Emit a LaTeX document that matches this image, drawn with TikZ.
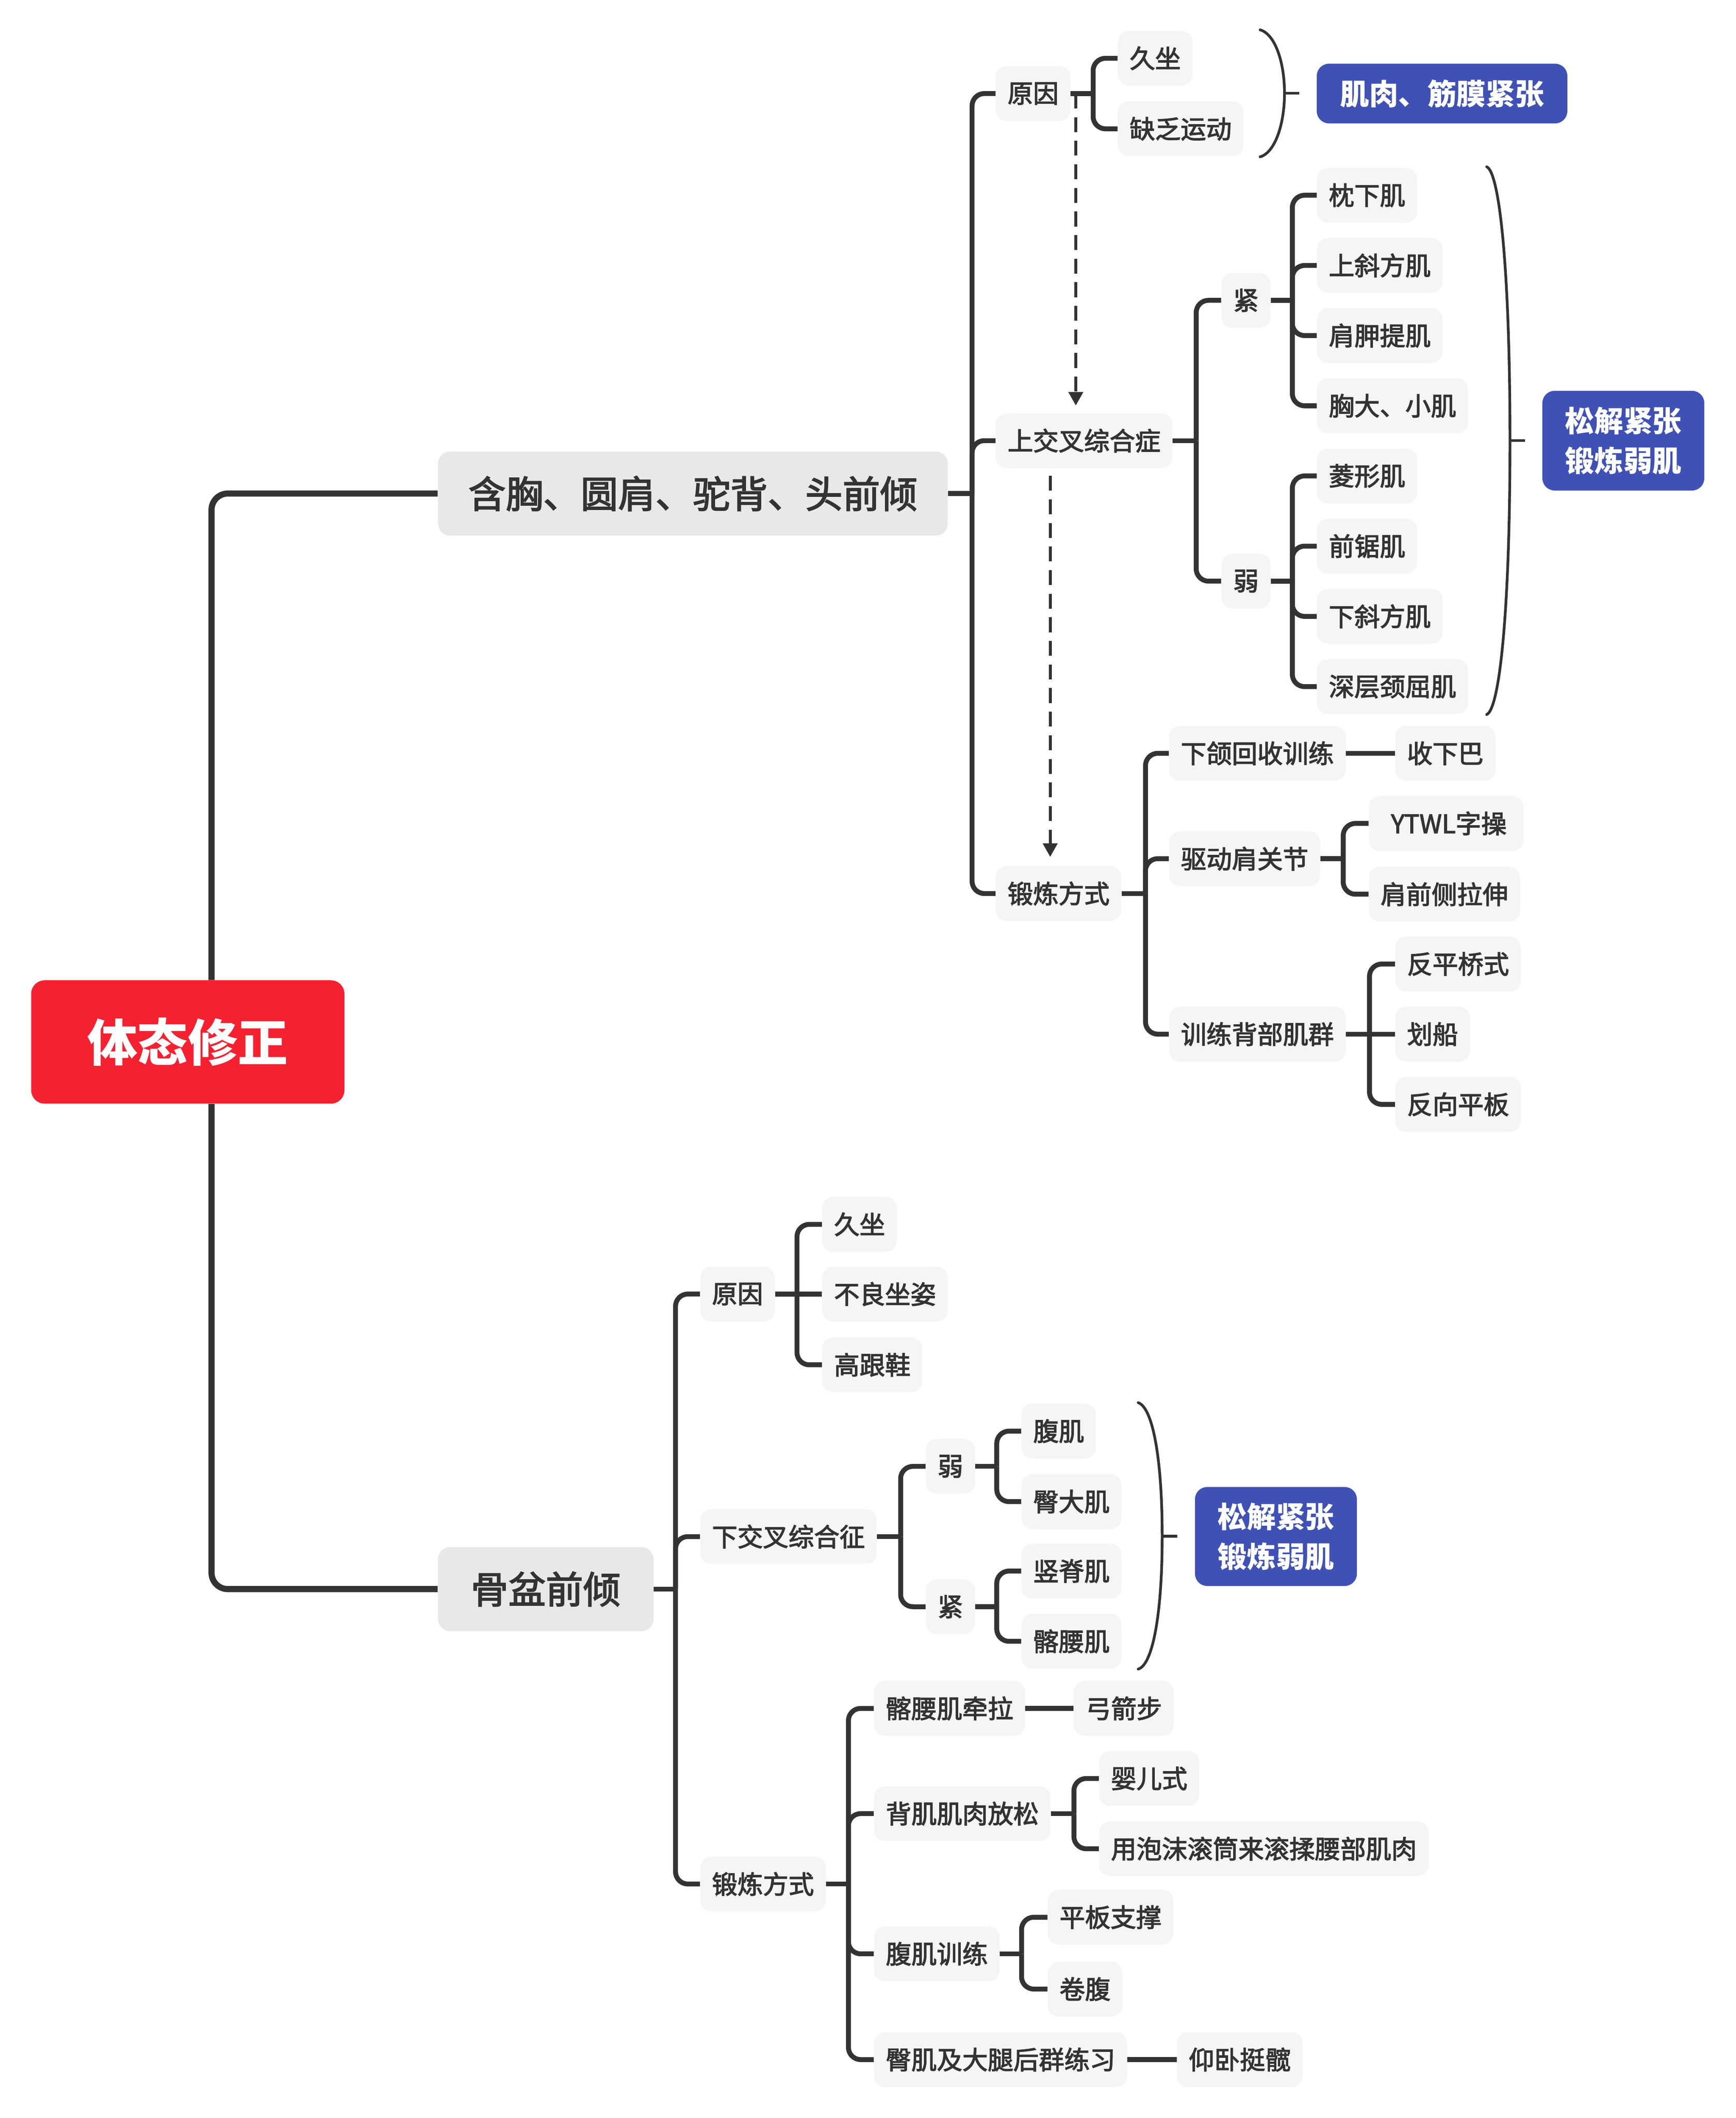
\documentclass[tikz,border=0pt]{standalone}
\usepackage{fontspec}
\setmainfont{Noto Sans CJK SC}
\newfontfamily\medfont{Noto Sans CJK SC}[FakeBold=2.6]
\usetikzlibrary{arrows.meta}
\definecolor{ink}{HTML}{333333}
\definecolor{leaf}{HTML}{F5F5F5}
\definecolor{midgrey}{HTML}{E8E8E8}
\definecolor{blu}{HTML}{3F51B5}
\definecolor{rootred}{HTML}{F62130}
\tikzset{
  leafbox/.style={fill=leaf, rounded corners=8pt, minimum height=40.4pt, inner xsep=8.7pt, inner ysep=0pt, text=ink, font=\medfont\fontsize{18.8pt}{22pt}\selectfont, anchor=west},
  l1box/.style={fill=midgrey, rounded corners=9pt, minimum height=62pt, inner xsep=0pt, text=ink, font=\medfont\fontsize{27.6pt}{34pt}\selectfont},
  bluebox/.style={fill=blu, rounded corners=9pt, text=white, font=\bfseries\fontsize{21.5pt}{29.4pt}\selectfont, align=center, inner sep=0pt},
  conn/.style={draw=ink, line width=3.6pt, rounded corners=9pt},
  rootconn/.style={draw=ink, line width=4.5pt, rounded corners=12pt},
  brk/.style={draw=ink, line width=2pt, line cap=round},
  dasharrow/.style={draw=ink, line width=2.2pt, dash pattern=on 11pt off 6.4pt, -{Triangle[length=10pt,width=10.5pt]}},
}
\begin{document}
\begin{tikzpicture}[x=1pt,y=-1pt]
\useasboundingbox (0,0) rectangle (1280,1562.1);

% ---------- root and level 1 ----------
\node[fill=rootred, rounded corners=10pt, minimum width=231pt, minimum height=91pt, inner sep=0pt, text=white, font=\bfseries\fontsize{37pt}{40pt}\selectfont] (root) at (138.5,768.5) {体态修正};
\node[l1box, minimum width=376pt] (la) at (511,364) {含胸、圆肩、驼背、头前倾};
\node[l1box, minimum width=159pt] (lb) at (402.5,1172) {骨盆前倾};
\coordinate (jR) at (156,0);
\draw[rootconn] (root.north -| jR) |- (la.west);
\draw[rootconn] (root.south -| jR) |- (lb.west);

% ---------- upper branch ----------
\coordinate (jA) at (716.9,364);
\node[leafbox] (ay) at (734.2,69) {原因};
\node[leafbox] (ax) at (734.2,325) {上交叉综合症};
\node[leafbox] (ad) at (734.2,659) {锻炼方式};
\draw[conn] (la.east) -- (jA);
\foreach \n in {ay,ax,ad} \draw[conn] (jA) |- (\n.west);

% causes
\coordinate (jAy) at (806.2,69);
\node[leafbox] (ay1) at (824.2,43) {久坐};
\node[leafbox] (ay2) at (824.2,95) {缺乏运动};
\draw[conn] (ay.east) -- (jAy);
\foreach \n in {ay1,ay2} \draw[conn] (jAy) |- (\n.west);
\draw[brk] (929.3,22) .. controls (940,25) and (947.3,45) .. (947.3,68.7) .. controls (947.3,92.4) and (940,112.7) .. (929.3,115.7);
\draw[brk, line cap=butt] (947.3,68.7) -- (958.3,68.7);
\node[bluebox, minimum width=184.8pt, minimum height=44pt] (b1) at (1063.5,69) {肌肉、筋膜紧张};

% upper crossed syndrome
\coordinate (jAx) at (882.2,325);
\node[leafbox] (kt) at (900.6,221.5) {紧};
\node[leafbox] (wk) at (900.6,428.6) {弱};
\draw[conn] (ax.east) -- (jAx);
\foreach \n in {kt,wk} \draw[conn] (jAx) |- (\n.west);
\coordinate (jK) at (953.1,221.5);
\node[leafbox] (k1) at (971.1,144) {枕下肌};
\node[leafbox] (k2) at (971.1,195.8) {上斜方肌};
\node[leafbox] (k3) at (971.1,247.5) {肩胛提肌};
\node[leafbox] (k4) at (971.1,299.3) {胸大、小肌};
\draw[conn] (kt.east) -- (jK);
\foreach \n in {k1,k2,k3,k4} \draw[conn] (jK) |- (\n.west);
\coordinate (jW) at (953.1,428.6);
\node[leafbox] (w1) at (971.1,351) {菱形肌};
\node[leafbox] (w2) at (971.1,402.8) {前锯肌};
\node[leafbox] (w3) at (971.1,454.6) {下斜方肌};
\node[leafbox] (w4) at (971.1,506.4) {深层颈屈肌};
\draw[conn] (wk.east) -- (jW);
\foreach \n in {w1,w2,w3,w4} \draw[conn] (jW) |- (\n.west);
\draw[brk] (1096.4,123) .. controls (1106,127) and (1113.6,200) .. (1113.6,325) .. controls (1113.6,450) and (1106,523) .. (1096.4,527);
\draw[brk, line cap=butt] (1113.6,325) -- (1124.7,325);
\node[bluebox, minimum width=119.4pt, minimum height=73.5pt] (b2) at (1197.2,325) {松解紧张\\锻炼弱肌};

% exercises (upper)
\coordinate (jAd) at (844.8,659);
\node[leafbox] (e1) at (862,555.6) {下颌回收训练};
\node[leafbox] (e2) at (862,633.3) {驱动肩关节};
\node[leafbox] (e3) at (862,762.7) {训练背部肌群};
\draw[conn] (ad.east) -- (jAd);
\foreach \n in {e1,e2,e3} \draw[conn] (jAd) |- (\n.west);
\node[leafbox] (e11) at (1028.8,555.6) {收下巴};
\draw[conn] (e1.east) -- (e11.west);
\coordinate (jE2) at (990.6,633.3);
\node[leafbox, minimum width=114pt] (e21) at (1009.3,607.3) {\hspace{4pt}YTWL字操};
\node[leafbox] (e22) at (1009.3,659.5) {肩前侧拉伸};
\draw[conn] (e2.east) -- (jE2);
\foreach \n in {e21,e22} \draw[conn] (jE2) |- (\n.west);
\coordinate (jE3) at (1010,762.7);
\node[leafbox] (e31) at (1028.8,711) {反平桥式};
\node[leafbox] (e32) at (1028.8,762.7) {划船};
\node[leafbox] (e33) at (1028.8,814.5) {反向平板};
\draw[conn] (e3.east) -- (e32.west);
\foreach \n in {e31,e33} \draw[conn] (jE3) |- (\n.west);

% dashed arrows
\coordinate (d1) at (793.4,69);
\draw[dasharrow, shorten >=5.5pt] (d1) -- (d1 |- ax.north);
\coordinate (d2) at (774.5,0);
\draw[dasharrow, shorten <=5.5pt, shorten >=6.6pt] (ax.south -| d2) -- (ad.north -| d2);

% ---------- lower branch ----------
\coordinate (jB) at (498.2,1172);
\node[leafbox] (by) at (516.2,954.4) {原因};
\node[leafbox] (bx) at (516.2,1133.3) {下交叉综合征};
\node[leafbox] (bd) at (516.2,1389.5) {锻炼方式};
\draw[conn] (lb.east) -- (jB);
\foreach \n in {by,bx,bd} \draw[conn] (jB) |- (\n.west);

% causes
\coordinate (jBy) at (587.8,954.4);
\node[leafbox] (by1) at (606.2,903) {久坐};
\node[leafbox] (by2) at (606.2,954.4) {不良坐姿};
\node[leafbox] (by3) at (606.2,1006.6) {高跟鞋};
\draw[conn] (by.east) -- (by2.west);
\foreach \n in {by1,by3} \draw[conn] (jBy) |- (\n.west);

% lower crossed syndrome
\coordinate (jBx) at (664.2,1133.3);
\node[leafbox] (lw) at (682.6,1081.5) {弱};
\node[leafbox] (lk) at (682.6,1185) {紧};
\draw[conn] (bx.east) -- (jBx);
\foreach \n in {lw,lk} \draw[conn] (jBx) |- (\n.west);
\coordinate (jBw) at (735.1,1081.5);
\node[leafbox] (lw1) at (753.1,1055.5) {腹肌};
\node[leafbox] (lw2) at (753.1,1107.5) {臀大肌};
\draw[conn] (lw.east) -- (jBw);
\foreach \n in {lw1,lw2} \draw[conn] (jBw) |- (\n.west);
\coordinate (jBk) at (735.1,1185);
\node[leafbox] (lk1) at (753.1,1158.7) {竖脊肌};
\node[leafbox] (lk2) at (753.1,1210.5) {髂腰肌};
\draw[conn] (lk.east) -- (jBk);
\foreach \n in {lk1,lk2} \draw[conn] (jBk) |- (\n.west);
\draw[brk] (839.4,1034.5) .. controls (850,1038) and (857.1,1075) .. (857.1,1133) .. controls (857.1,1191) and (850,1228) .. (839.4,1231);
\draw[brk, line cap=butt] (857.1,1133) -- (868.1,1133);
\node[bluebox, minimum width=119.4pt, minimum height=73pt] (b3) at (941,1133.2) {松解紧张\\锻炼弱肌};

% exercises (lower)
\coordinate (jBd) at (625.7,1389.5);
\node[leafbox] (f1) at (644.4,1260) {髂腰肌牵拉};
\node[leafbox] (f2) at (644.4,1337.6) {背肌肌肉放松};
\node[leafbox] (f3) at (644.4,1441) {腹肌训练};
\node[leafbox] (f4) at (644.4,1519) {臀肌及大腿后群练习};
\draw[conn] (bd.east) -- (jBd);
\foreach \n in {f1,f2,f3,f4} \draw[conn] (jBd) |- (\n.west);
\node[leafbox] (f11) at (791.7,1260) {弓箭步};
\draw[conn] (f1.east) -- (f11.west);
\coordinate (jF2) at (792,1337.6);
\node[leafbox] (f21) at (810.4,1311.7) {婴儿式};
\node[leafbox] (f22) at (810.4,1363.5) {用泡沫滚筒来滚揉腰部肌肉};
\draw[conn] (f2.east) -- (jF2);
\foreach \n in {f21,f22} \draw[conn] (jF2) |- (\n.west);
\coordinate (jF3) at (753.4,1441);
\node[leafbox] (f31) at (772.5,1414) {平板支撑};
\node[leafbox] (f32) at (772.5,1467) {卷腹};
\draw[conn] (f3.east) -- (jF3);
\foreach \n in {f31,f32} \draw[conn] (jF3) |- (\n.west);
\node[leafbox] (f41) at (867.8,1519) {仰卧挺髋};
\draw[conn] (f4.east) -- (f41.west);
\end{tikzpicture}
\end{document}
